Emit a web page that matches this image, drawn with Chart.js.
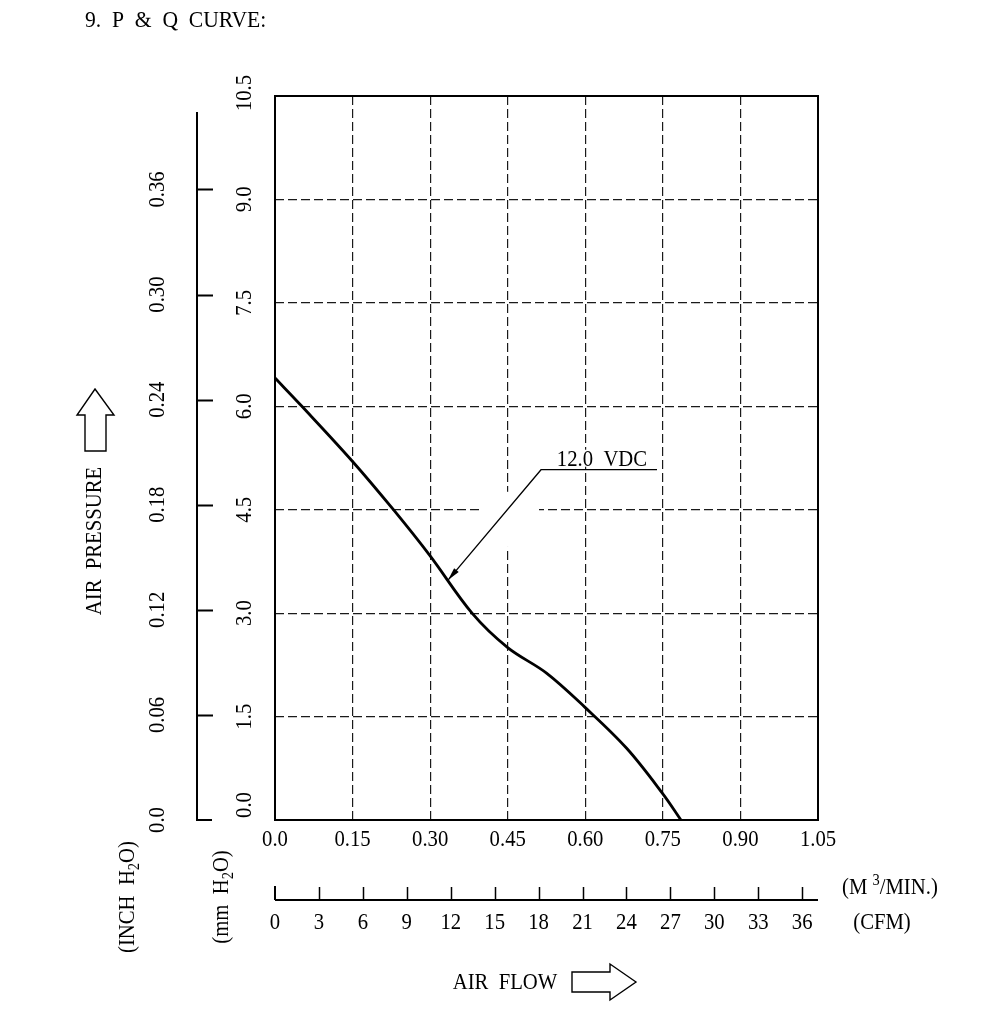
<!DOCTYPE html>
<html>
<head>
<meta charset="utf-8">
<script src="https://cdn.jsdelivr.net/npm/chart.js@4/dist/chart.umd.min.js"></script>
<style>
  html, body { margin: 0; padding: 0; background: #fff; }
  #pq { display: block; }
</style>
</head>
<body>
<canvas id="pq" width="1000" height="1011" style="width:1000px;height:1011px"></canvas>
<script>
// P & Q curve, 12.0 VDC (air flow in m3/min, static pressure in mm H2O)
const flow     = [0, 0.052, 0.15, 0.229, 0.30, 0.381, 0.45, 0.525, 0.60, 0.68, 0.75, 0.785];
const pressure = [6.41, 6.00, 5.20, 4.50, 3.83, 3.00, 2.50, 2.13, 1.63, 1.04, 0.38, 0];

// axis ticks
const flowTicks     = [0, 0.15, 0.30, 0.45, 0.60, 0.75, 0.90, 1.05];
const flowLabels    = ['0.0', '0.15', '0.30', '0.45', '0.60', '0.75', '0.90', '1.05'];
const mmTicks       = [0, 1.5, 3.0, 4.5, 6.0, 7.5, 9.0, 10.5];
const mmLabels      = ['0.0', '1.5', '3.0', '4.5', '6.0', '7.5', '9.0', '10.5'];
const inchTicks     = [0, 0.06, 0.12, 0.18, 0.24, 0.30, 0.36];
const inchLabels    = ['0.0', '0.06', '0.12', '0.18', '0.24', '0.30', '0.36'];
const cfmTicks      = [0, 3, 6, 9, 12, 15, 18, 21, 24, 27, 30, 33, 36];

const MM_PER_INCH = 25.4;
const CFM_PER_CMM = 35.3147;

// callout for the curve (data units)
const curveName = '12.0  VDC';
const note = { tip: [0.3346, 3.48], elbow: [0.5144, 5.08], end: 0.7387, textX: 0.545 };

const FONT = "'Liberation Serif', 'DejaVu Serif', serif";
const FS = 23;      // font size
const HS = 0.9;     // narrow the glyphs a bit, the drawing uses a condensed face

function setFont(ctx, size) {
  ctx.font = size + 'px ' + FONT;
}

// draws a label made of pieces, pieces may be sub/superscript
function rich(ctx, parts, x, y, size, rot, align) {
  ctx.save();
  ctx.translate(x, y);
  if (rot) ctx.rotate(rot);
  ctx.scale(HS, 1);
  ctx.textBaseline = 'middle';
  ctx.textAlign = 'left';
  let w = 0;
  parts.forEach(p => {
    setFont(ctx, p.s ? size * 0.7 : size);
    w += ctx.measureText(p.t).width;
  });
  let cx = align === 'left' ? 0 : -w / 2;
  parts.forEach(p => {
    setFont(ctx, p.s ? size * 0.7 : size);
    let dy = 0;
    if (p.s === 'sub') dy = size * 0.28;
    if (p.s === 'sup') dy = -size * 0.3;
    ctx.fillText(p.t, cx, dy);
    cx += ctx.measureText(p.t).width;
  });
  ctx.restore();
}

function text(ctx, s, x, y, size, rot, align) {
  rich(ctx, [{ t: s }], x, y, size, rot, align);
}

const pqPlugin = {
  id: 'pqDecor',
  beforeDatasetsDraw(chart) {
    const ctx = chart.ctx;
    const x = chart.scales.x, y = chart.scales.y;
    ctx.save();
    ctx.fillStyle = '#fff';
    // breaks in the grid around the callout
    const gy = Math.round(y.getPixelForValue(4.5));
    ctx.fillRect(x.getPixelForValue(0.40), gy - 3, x.getPixelForValue(0.5105) - x.getPixelForValue(0.40), 6);
    const gx = Math.round(x.getPixelForValue(0.45));
    ctx.fillRect(gx - 3, y.getPixelForValue(4.76), 6, y.getPixelForValue(3.96) - y.getPixelForValue(4.76));
    ctx.restore();
  },
  afterDraw(chart) {
    const ctx = chart.ctx;
    const { x, y, yIn, xCfm } = chart.scales;
    const a = chart.chartArea;
    ctx.save();
    ctx.fillStyle = '#000';
    ctx.strokeStyle = '#000';

    // frame
    ctx.lineWidth = 2;
    ctx.strokeRect(a.left, a.top, a.right - a.left, a.bottom - a.top);

    // title
    text(ctx, '9.  P  &  Q  CURVE:', 85, 21, 24, 0, 'left');

    // main flow labels
    flowTicks.forEach((v, i) => text(ctx, flowLabels[i], x.getPixelForValue(v), 840, FS, 0));

    // mm H2O labels (rotated)
    mmTicks.forEach((v, i) => {
      let py = y.getPixelForValue(v);
      if (v === 0) py -= 15;
      if (v === 10.5) py -= 3;
      text(ctx, mmLabels[i], 245, py, FS, -Math.PI / 2);
    });

    // inch H2O axis
    const ax = 197;
    ctx.lineWidth = 2;
    ctx.beginPath();
    ctx.moveTo(ax, 112);
    ctx.lineTo(ax, a.bottom);
    ctx.lineTo(ax + 15, a.bottom);
    inchTicks.forEach(v => {
      if (v === 0) return;
      const py = Math.round(yIn.getPixelForValue(v)) + 0.5;
      ctx.moveTo(ax, py);
      ctx.lineTo(ax + 16, py);
    });
    ctx.stroke();
    inchTicks.forEach((v, i) => text(ctx, inchLabels[i], 158, yIn.getPixelForValue(v), FS, -Math.PI / 2));

    // CFM axis
    const by = 900;
    ctx.lineWidth = 2;
    ctx.beginPath();
    ctx.moveTo(a.left, by);
    ctx.lineTo(a.right, by);
    ctx.moveTo(a.left, by);
    ctx.lineTo(a.left, by - 14);
    ctx.stroke();
    ctx.lineWidth = 1.5;
    ctx.beginPath();
    cfmTicks.forEach(v => {
      if (v === 0) return;
      const px = Math.round(xCfm.getPixelForValue(v)) + 0.5;
      ctx.moveTo(px, by);
      ctx.lineTo(px, by - 13);
    });
    ctx.stroke();
    cfmTicks.forEach(v => text(ctx, String(v), xCfm.getPixelForValue(v), 923, FS, 0));

    rich(ctx, [{ t: '(M ' }, { t: '3', s: 'sup' }, { t: '/MIN.)' }], 842, 888, FS, 0, 'left');
    text(ctx, '(CFM)', 882, 923, FS, 0);

    // axis titles
    text(ctx, 'AIR  PRESSURE', 95, 541, FS, -Math.PI / 2);
    rich(ctx, [{ t: '(INCH  H' }, { t: '2', s: 'sub' }, { t: 'O)' }], 128, 897, FS, -Math.PI / 2);
    rich(ctx, [{ t: '(mm  H' }, { t: '2', s: 'sub' }, { t: 'O)' }], 222, 897, FS, -Math.PI / 2);
    text(ctx, 'AIR  FLOW', 505, 983, FS, 0);

    // hollow arrows
    ctx.lineWidth = 1.4;
    ctx.beginPath();
    ctx.moveTo(95, 389);
    ctx.lineTo(114, 415);
    ctx.lineTo(106, 415);
    ctx.lineTo(106, 451);
    ctx.lineTo(85, 451);
    ctx.lineTo(85, 415);
    ctx.lineTo(77, 415);
    ctx.closePath();
    ctx.stroke();

    ctx.beginPath();
    ctx.moveTo(636, 982);
    ctx.lineTo(610, 964);
    ctx.lineTo(610, 972);
    ctx.lineTo(572, 972);
    ctx.lineTo(572, 992);
    ctx.lineTo(610, 992);
    ctx.lineTo(610, 1000);
    ctx.closePath();
    ctx.stroke();

    // callout
    const tx = x.getPixelForValue(note.tip[0]), ty = y.getPixelForValue(note.tip[1]);
    const ex = x.getPixelForValue(note.elbow[0]), ey = y.getPixelForValue(note.elbow[1]);
    const endX = x.getPixelForValue(note.end);
    const lx = x.getPixelForValue(note.textX);
    setFont(ctx, FS);
    const tw = ctx.measureText(curveName).width * HS;
    ctx.fillStyle = '#fff';
    ctx.fillRect(lx - 1, ey - 20, tw + 2, 17);
    ctx.fillStyle = '#000';
    ctx.lineWidth = 1.3;
    ctx.beginPath();
    ctx.moveTo(tx, ty);
    ctx.lineTo(ex, ey);
    ctx.lineTo(endX, ey);
    ctx.stroke();
    const ang = Math.atan2(ey - ty, ex - tx);
    const hl = 13, hw = 3;
    ctx.beginPath();
    ctx.moveTo(tx, ty);
    ctx.lineTo(tx + hl * Math.cos(ang) - hw * Math.sin(ang), ty + hl * Math.sin(ang) + hw * Math.cos(ang));
    ctx.lineTo(tx + hl * Math.cos(ang) + hw * Math.sin(ang), ty + hl * Math.sin(ang) - hw * Math.cos(ang));
    ctx.closePath();
    ctx.fill();
    text(ctx, curveName, lx, ey - 10, FS, 0, 'left');

    ctx.restore();
  }
};

const ctx = document.getElementById('pq').getContext('2d');
new Chart(ctx, {
  type: 'line',
  data: {
    datasets: [{
      label: curveName,
      data: flow.map((f, i) => ({ x: f, y: pressure[i] })),
      borderColor: '#000',
      borderWidth: 2.8,
      pointRadius: 0,
      fill: false,
      tension: 0.35
    }]
  },
  options: {
    responsive: false,
    animation: false,
    layout: { padding: { left: 275, top: 96, right: 182, bottom: 191 } },
    plugins: {
      legend: { display: false },
      tooltip: { enabled: false }
    },
    scales: {
      x: {
        type: 'linear',
        min: 0,
        max: 1.05,
        afterBuildTicks: s => { s.ticks = flowTicks.map(v => ({ value: v })); },
        ticks: { display: false },
        grid: { color: '#1a1a1a', lineWidth: 1.2, drawTicks: false },
        border: { display: false, dash: [9, 4] }
      },
      y: {
        type: 'linear',
        min: 0,
        max: 10.5,
        afterBuildTicks: s => { s.ticks = mmTicks.map(v => ({ value: v })); },
        ticks: { display: false },
        grid: { color: '#1a1a1a', lineWidth: 1.2, drawTicks: false },
        border: { display: false, dash: [9, 4] }
      },
      yIn: {
        type: 'linear',
        display: false,
        position: 'left',
        min: 0,
        max: 10.5 / MM_PER_INCH
      },
      xCfm: {
        type: 'linear',
        display: false,
        position: 'bottom',
        min: 0,
        max: 1.05 * CFM_PER_CMM
      }
    }
  },
  plugins: [pqPlugin]
});
</script>
</body>
</html>
